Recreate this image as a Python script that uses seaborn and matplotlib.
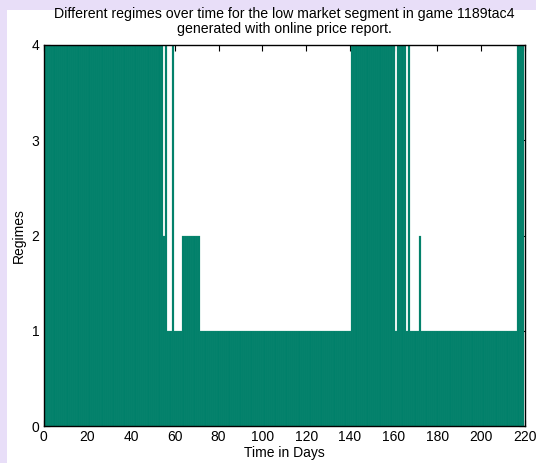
import numpy as np
import pandas as pd
import matplotlib
matplotlib.use("Agg")
import matplotlib.pyplot as plt
from matplotlib.patches import Rectangle
import seaborn as sns

# Regime per day, stored as consecutive runs (level, number of days)
regime_levels = [4, 2, 4, 1, 4, 1, 2, 1, 4, 1, 4, 1, 4, 1, 2, 1, 4]
run_lengths = [54, 1, 1, 2, 1, 4, 8, 69, 20, 1, 4, 1, 1, 4, 1, 44, 3]
first_day = 1

x_ticks = [0, 20, 40, 60, 80, 100, 120, 140, 160, 180, 200, 220]
y_ticks = [0, 1, 2, 3, 4]

regimes = np.repeat(regime_levels, run_lengths)
days = np.arange(first_day, first_day + len(regimes))
df = pd.DataFrame({"day": days, "regime": regimes})

sns.set_theme(style="ticks")
plt.rcParams["font.family"] = ["Liberation Sans", "DejaVu Sans"]
plt.rcParams["xtick.direction"] = "in"
plt.rcParams["ytick.direction"] = "in"

bar_color = "#00806A"
lavender = "#E8DEF8"

fig = plt.figure(figsize=(5.36, 4.63), dpi=100)
fig.patch.set_facecolor(lavender)
fig.add_artist(Rectangle((7 / 536, 0), 1, 1 - 10 / 463, transform=fig.transFigure,
                         facecolor="white", edgecolor="none", zorder=0))

ax = fig.add_axes([43.5 / 536, 1 - 426 / 463, (525 - 43.5) / 536, (426 - 45) / 463])
ax.set_facecolor("white")

sns.barplot(data=df, x="day", y="regime", native_scale=True, width=1.0,
            color=bar_color, saturation=1, edgecolor="#1f9178", linewidth=0.15,
            errorbar=None, ax=ax)

ax.set_xlim(0, 220)
ax.set_ylim(0, 4)
ax.set_xticks(x_ticks)
ax.set_yticks(y_ticks)
ax.tick_params(axis="both", which="both", direction="in", top=True, right=True,
               length=4, width=0.8, color="black", labelsize=10, labelcolor="black", pad=3)
for s in ax.spines.values():
    s.set_visible(True)
    s.set_color("black")
    s.set_linewidth(1.0)

ax.set_xlabel("Time in Days", fontsize=10, color="black", labelpad=1)
ax.set_ylabel("Regimes", fontsize=10, color="black", labelpad=4)
ax.set_title("Different regimes over time for the low market segment in game 1189tac4\n"
             "generated with online price report.", fontsize=10.2, color="black",
             pad=9, linespacing=1.08)

fig.savefig("out.png", dpi=100, facecolor=fig.get_facecolor())
